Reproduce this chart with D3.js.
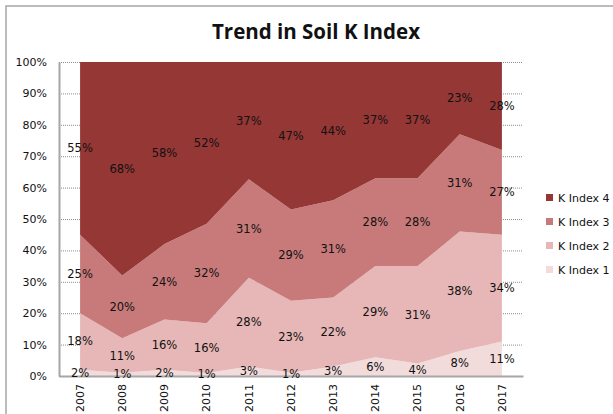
<!DOCTYPE html>
<html>
<head>
<meta charset="utf-8">
<script src="https://cdn.jsdelivr.net/npm/d3@7"></script>
<style>
  body { margin: 0; background: #fff; }
  text { font-family: "DejaVu Sans", sans-serif; fill: #111; }
</style>
</head>
<body>
<script>

var years = ["2007","2008","2009","2010","2011","2012","2013","2014","2015","2016","2017"];
var seriesNames = ["K Index 1","K Index 2","K Index 3","K Index 4"];
var k1 = [2, 1, 2, 1, 3, 1, 3, 6, 4, 8, 11];
var k2 = [18, 11, 16, 16, 28, 23, 22, 29, 31, 38, 34];
var k3 = [25, 20, 24, 32, 31, 29, 31, 28, 28, 31, 27];
var k4 = [55, 68, 58, 52, 37, 47, 44, 37, 37, 23, 28];
var yTicks = [0, 0.1, 0.2, 0.3, 0.4, 0.5, 0.6, 0.7, 0.8, 0.9, 1];
var colors = ["#f2dcdb", "#e6b7b6", "#c87a7a", "#953735"];

var size_graph = { x: 613, y: 414 };
var margin = { top: 62, right: 90, bottom: 38, left: 59 };
var width = 523 - margin.left,
    height = 376 - margin.top;

var rows = years.map((yr, i) => ({
	year: yr,
	"K Index 1": k1[i],
	"K Index 2": k2[i],
	"K Index 3": k3[i],
	"K Index 4": k4[i]
}));

var stacked = d3.stack()
	.keys(seriesNames)
	.offset(d3.stackOffsetExpand)(rows);

var x = d3.scaleBand()
	.domain(years)
	.range([0, width]);

var y = d3.scaleLinear()
	.domain([0, 1])
	.range([height, 0]);

var cx = d => x(d.data.year) + x.bandwidth() / 2;

var svg = d3.select("body").append("svg")
	.attr("width", size_graph.x)
	.attr("height", size_graph.y);

// chart frame
svg.append("rect")
	.attr("x", 6).attr("y", 6)
	.attr("width", 640).attr("height", 440)
	.attr("fill", "none")
	.attr("stroke", "#a6a6a6")
	.attr("stroke-width", 1.5);

svg.append("text")
	.attr("x", 316).attr("y", 39)
	.attr("text-anchor", "middle")
	.style("font-family", "'Open Sans', Lato, sans-serif")
	.style("font-weight", "bold")
	.style("font-size", "20.5px")
	.text("Trend in Soil K Index");

var g = svg.append("g")
	.attr("transform", `translate(${margin.left},${margin.top})`);

// gridlines
g.append("g")
	.selectAll("line")
	.data(yTicks)
	.enter().append("line")
	.attr("x1", 0).attr("x2", width)
	.attr("y1", d => y(d) + 0.5).attr("y2", d => y(d) + 0.5)
	.attr("stroke", "#8c8c8c")
	.attr("stroke-dasharray", "1,1");

var area = d3.area()
	.x(cx)
	.y0(d => y(d[0]))
	.y1(d => y(d[1]));

g.selectAll(".band")
	.data(stacked)
	.enter().append("path")
	.attr("class", "band")
	.attr("d", area)
	.attr("fill", (d, i) => colors[i]);

// axes
var yAxis = d3.axisLeft(y).tickValues(yTicks).tickSize(0).tickPadding(12)
	.tickFormat(d3.format(".0%"));
var yg = g.append("g").call(yAxis);
yg.select(".domain").attr("stroke", "#a6a6a6").attr("stroke-width", 2);
yg.selectAll("text").style("font-size", "11px").attr("fill", "#111");

var xAxis = d3.axisBottom(x).tickSize(0).tickPadding(8);
var xg = g.append("g")
	.attr("transform", `translate(0,${height})`)
	.call(xAxis);
xg.select(".domain").attr("stroke", "#a6a6a6").attr("stroke-width", 2);
xg.selectAll("text")
	.style("font-size", "11px")
	.attr("fill", "#111")
	.attr("transform", "rotate(-90)")
	.attr("text-anchor", "end")
	.attr("dy", "0.35em")
	.attr("x", -8)
	.attr("y", 0);

// data labels
stacked.forEach((s, si) => {
	g.append("g").selectAll("text")
		.data(s)
		.enter().append("text")
		.attr("x", cx)
		.attr("y", d => y((d[0] + d[1]) / 2))
		.attr("dy", "0.35em")
		.attr("text-anchor", "middle")
		.style("font-size", "11.5px")
		.text((d, i) => [k1, k2, k3, k4][si][i] + "%");
});

// legend
var legend = svg.append("g")
	.attr("transform", "translate(546,198)");
var items = legend.selectAll("g")
	.data(seriesNames.slice().reverse())
	.enter().append("g")
	.attr("transform", (d, i) => `translate(0,${i * 24})`);
items.append("rect")
	.attr("x", 0).attr("y", -4)
	.attr("width", 7).attr("height", 7)
	.attr("fill", d => colors[seriesNames.indexOf(d)]);
items.append("text")
	.attr("x", 12).attr("y", 0)
	.attr("dy", "0.35em")
	.style("font-size", "11px")
	.text(d => d);

</script>
</body>
</html>
